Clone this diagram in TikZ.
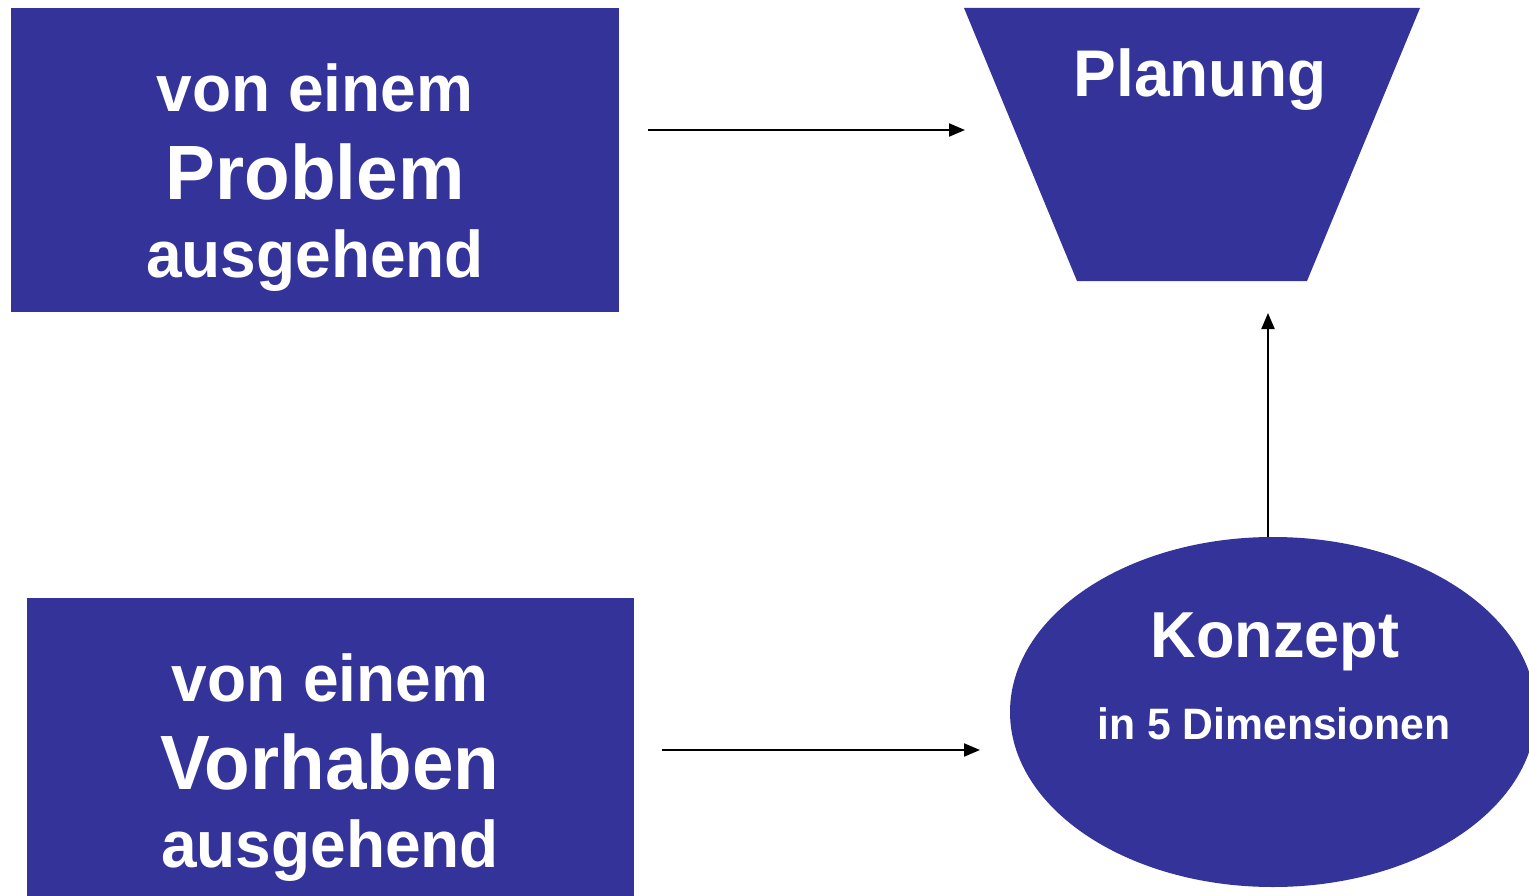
\documentclass[tikz,border=0pt]{standalone}
\usepackage{fontspec}
\setmainfont{Liberation Sans}
\newfontfamily\condfont[FakeStretch=0.97]{Liberation Sans}
\usetikzlibrary{arrows.meta,shapes.geometric}
\definecolor{boxblue}{RGB}{51,51,153}
\begin{document}
\begin{tikzpicture}[x=1pt,y=-1pt,
  bluebox/.style={fill=boxblue, draw=none, inner sep=0pt},
  txt/.style={text=white, inner sep=0pt, anchor=base},
  small/.style={font=\condfont\bfseries\fontsize{66}{70}\selectfont},
  big/.style={font=\condfont\bfseries\fontsize{77}{80}\selectfont},
  conn/.style={draw=black, line width=2pt, -{Triangle[length=16pt,width=13pt]}}]
\useasboundingbox (0,0) rectangle (1529,896);
\clip (0,0) rectangle (1529,896);
% boxes
\node[bluebox, minimum width=608pt, minimum height=304pt] (prob) at (315,160) {};
\node[bluebox, minimum width=607pt, minimum height=310pt] (vorh) at (330.5,753) {};
\fill[boxblue] (964,8) -- (1420,8) -- (1307,281) -- (1077,281) -- cycle;
\node[bluebox, ellipse, minimum width=526pt, minimum height=350pt] (konz) at (1273,712) {};
% texts
\node[txt, small] (p1) at (315,112) {von einem};
\node[txt, big]   (p2) at (315,200) {Problem};
\node[txt, small] (p3) at (315,277) {ausgehend};
\node[txt, small] (v1) at (330,701) {von einem};
\node[txt, big]   (v2) at (330,789) {Vorhaben};
\node[txt, small] (v3) at (330,867) {ausgehend};
\node[txt, font=\condfont\bfseries\fontsize{66}{70}\selectfont] (pl) at (1200,97) {Planung};
\node[txt, font=\condfont\bfseries\fontsize{65}{70}\selectfont] (k1) at (1275,657) {Konzept};
\node[txt, font=\condfont\bfseries\fontsize{44}{48}\selectfont] (k2) at (1274,739) {in 5 Dimensionen};
% connector ends
\coordinate (a1s) at (648,130);
\coordinate (a1e) at (965,130);
\coordinate (a2s) at (662,750);
\coordinate (a2e) at (980,750);
\coordinate (a3e) at (1268,313);
\draw[conn] (a1s) -- (a1e);
\draw[conn] (a2s) -- (a2e);
\draw[conn] (konz.north -| a3e) -- (a3e);
\end{tikzpicture}
\end{document}
